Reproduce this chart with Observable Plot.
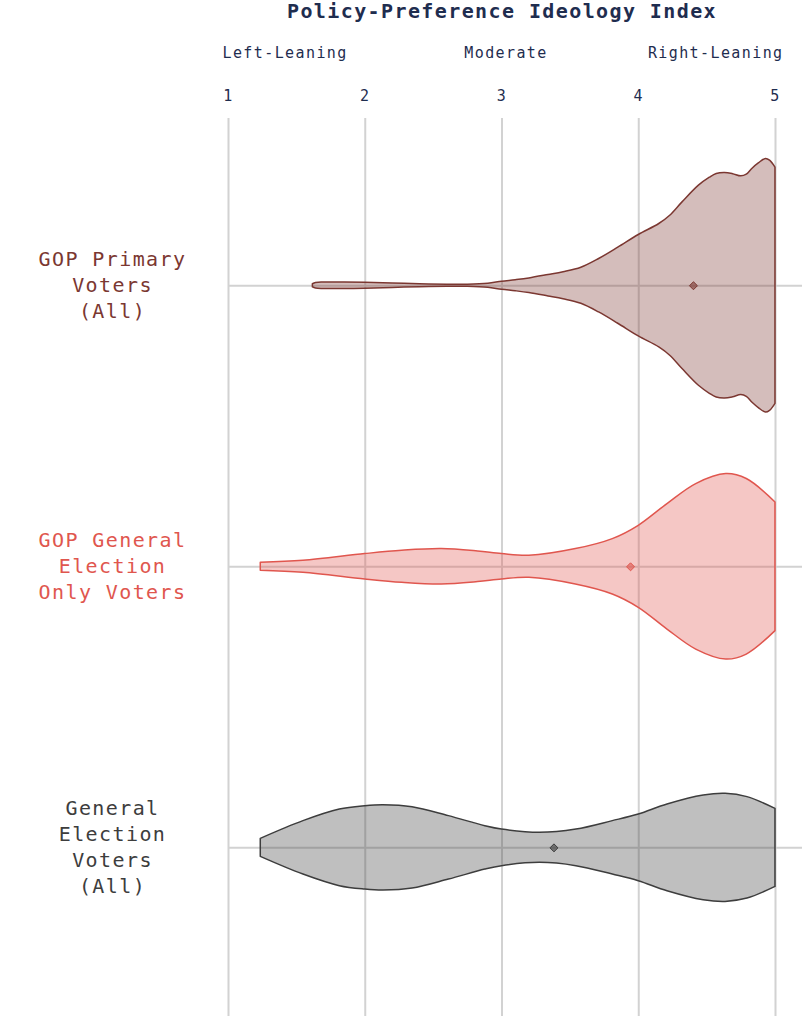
<!DOCTYPE html>
<html>
<head>
<meta charset="utf-8">
<script src="https://cdn.jsdelivr.net/npm/d3@7"></script>
<script src="https://cdn.jsdelivr.net/npm/@observablehq/plot@0.6"></script>
<style>
  html, body { margin: 0; padding: 0; background: #fff; }
</style>
</head>
<body>
<div id="chart"></div>
<script>
// Voter groups, top to bottom
const groups = ["GOP Primary Voters (All)", "GOP General Election Only Voters", "General Election Voters (All)"];
const groupLabels = ["GOP Primary\nVoters\n(All)", "GOP General\nElection\nOnly Voters", "General\nElection\nVoters\n(All)"];
const groupColors = ["#7b3731", "#e0564e", "#3d3d3d"];
const groupMeans = [4.40, 3.94, 3.38];

// Kernel density of the ideology index for each group: [index value, relative density]
const primaryDensity = [
  [1.617, 0.015], [1.64, 0.028], [1.7, 0.032], [1.85, 0.033], [2.0, 0.030], [2.2, 0.022],
  [2.4, 0.015], [2.6, 0.010], [2.75, 0.010], [2.9, 0.020], [3.0, 0.040], [3.1, 0.055],
  [3.2, 0.073], [3.34, 0.107], [3.45, 0.135], [3.58, 0.18], [3.71, 0.267], [3.85, 0.38],
  [4.0, 0.507], [4.15, 0.617], [4.23, 0.70], [4.32, 0.833], [4.44, 1.00], [4.52, 1.08],
  [4.57, 1.117], [4.63, 1.127], [4.69, 1.115], [4.75, 1.093], [4.79, 1.11], [4.83, 1.167],
  [4.88, 1.225], [4.93, 1.267], [4.96, 1.25], [5.0, 1.18]
];
const generalOnlyDensity = [
  [1.236, 0.04], [1.548, 0.06], [2.0, 0.127], [2.27, 0.16], [2.56, 0.177], [2.825, 0.153],
  [3.0, 0.127], [3.2, 0.11], [3.54, 0.177], [3.81, 0.277], [4.0, 0.41], [4.21, 0.627],
  [4.42, 0.827], [4.64, 0.927], [4.79, 0.877], [5.0, 0.643]
];
const generalAllDensity = [
  [1.236, 0.09], [1.548, 0.267], [1.814, 0.383], [2.0, 0.417], [2.133, 0.427], [2.346, 0.407],
  [2.612, 0.317], [2.878, 0.217], [3.0, 0.183], [3.278, 0.15], [3.544, 0.183], [3.81, 0.267],
  [4.0, 0.333], [4.21, 0.433], [4.475, 0.523], [4.635, 0.54], [4.795, 0.507], [5.0, 0.39]
];
const densities = [primaryDensity, generalOnlyDensity, generalAllDensity];

// Axis ticks and the scale's verbal anchors
const indexTicks = [1, 2, 3, 4, 5];
const scaleNotes = [
  {v: 1, label: "Left-Leaning"},
  {v: 3, label: "Moderate"},
  {v: 5, label: "Right-Leaning"}
];
const title = "Policy-Preference Ideology Index";

// Density units -> fraction of a row's height
const violinScale = 0.356;

const violinRows = densities.flatMap((pts, row) =>
  pts.map(([v, d]) => ({group: groups[row], row, v, d}))
);
const rows = groups.map((g, row) => ({group: g, row, label: groupLabels[row], mean: groupMeans[row]}));

const navy = "#1f2d4f";

const plot = Plot.plot({
  width: 802,
  height: 1016,
  marginTop: 118,
  marginBottom: 0,
  marginLeft: 228,
  marginRight: 27,
  style: {fontFamily: "'DejaVu Sans Mono', 'Liberation Mono', monospace", letterSpacing: "1.4px", background: "#fff"},
  x: {domain: [1, 5], axis: null},
  y: {domain: [-0.595, 2.6], reverse: true, axis: null},
  color: {domain: groups, range: groupColors},
  marks: [
    // grid
    Plot.ruleX(indexTicks, {stroke: "#d2d2d2", strokeWidth: 2}),
    Plot.ruleY(rows, {y: "row", x1: 1, x2: 5.2, stroke: "#d2d2d2", strokeWidth: 2}),
    // violins
    Plot.areaY(violinRows, {
      x: "v",
      y1: d => d.row - d.d * violinScale,
      y2: d => d.row + d.d * violinScale,
      z: "group",
      fill: "group",
      fillOpacity: 0.33,
      stroke: "group",
      strokeWidth: 1.5,
      curve: "catmull-rom"
    }),
    // group means
    Plot.dot(rows, {x: "mean", y: "row", symbol: "diamond2", r: 3.6, fill: "group", fillOpacity: 0.6, stroke: "group", strokeWidth: 1}),
    // group labels
    Plot.text(rows, {
      y: "row", text: "label", frameAnchor: "left", dx: -116, dy: -2, textAnchor: "middle",
      fill: "group", fontSize: 20, lineHeight: 1.3
    }),
    // tick labels
    Plot.text(indexTicks, {x: d => d, text: d => String(d), frameAnchor: "top", dy: -28, fill: navy, fontSize: 15}),
    // verbal anchors
    Plot.text(scaleNotes.slice(0, 1), {x: "v", text: "label", frameAnchor: "top", dy: -71, dx: -6, textAnchor: "start", fill: navy, fontSize: 15}),
    Plot.text(scaleNotes.slice(1, 2), {x: "v", text: "label", frameAnchor: "top", dy: -71, dx: 4, textAnchor: "middle", fill: navy, fontSize: 15}),
    Plot.text(scaleNotes.slice(2), {x: "v", text: "label", frameAnchor: "top", dy: -71, dx: 8, textAnchor: "end", fill: navy, fontSize: 15}),
    // title
    Plot.text([title], {x: () => 3, text: d => d, frameAnchor: "top", dy: -115, fill: navy, fontSize: 20, fontWeight: "bold"})
  ]
});

document.getElementById("chart").appendChild(plot);
</script>
</body>
</html>
